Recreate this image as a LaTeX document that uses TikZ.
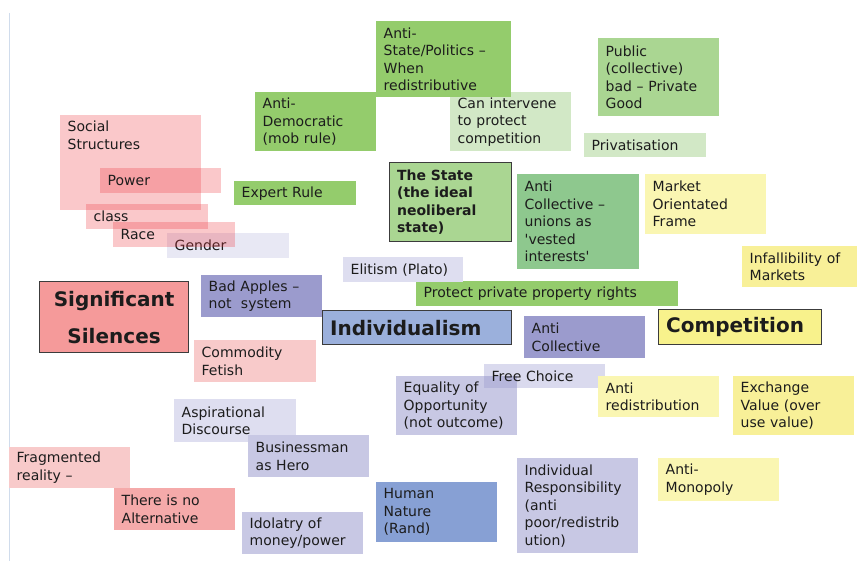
\documentclass[tikz,border=0pt]{standalone}
\usepackage{fontspec}
\setmainfont{DejaVu Sans}

\definecolor{inktext}{RGB}{28,28,28}
\definecolor{inkframe}{RGB}{60,60,60}
\definecolor{edgeline}{RGB}{208,220,236}
\definecolor{greenA}{RGB}{148,204,108}
\definecolor{greenB}{RGB}{170,214,146}
\definecolor{greenC}{RGB}{142,200,142}
\definecolor{greenPale}{RGB}{210,232,198}
\definecolor{yellowPale}{RGB}{250,246,178}
\definecolor{yellowMid}{RGB}{248,240,152}
\definecolor{yellowKey}{RGB}{248,242,140}
\definecolor{blueKey}{RGB}{155,176,220}
\definecolor{blueHuman}{RGB}{135,160,212}
\definecolor{purpleBox}{RGB}{155,155,205}
\definecolor{lavender}{RGB}{200,200,228}
\definecolor{lavLight}{RGB}{222,222,240}
\definecolor{lavGlass}{RGB}{150,150,205}
\definecolor{salmonKey}{RGB}{245,154,154}
\definecolor{pinkStrong}{RGB}{245,170,170}
\definecolor{pinkLight}{RGB}{248,202,202}
\definecolor{pinkGlass}{RGB}{236,56,64}

\begin{document}
\begin{tikzpicture}[x=1pt, y=-1pt,
        card/.style={anchor=north west, inner xsep=7.5pt, inner ysep=2pt, align=left,
            text=inktext, font=\fontsize{14}{17.5}\selectfont},
        glass/.style={card, fill opacity=0.28, text opacity=1},
        keybox/.style={draw=inkframe, line width=1.2pt},
        headline/.style={font=\bfseries\fontsize{20}{37}\selectfont}]

        \useasboundingbox (0,0) rectangle (857,561);

        % left margin rule
        \coordinate (ruletop) at (9.5,13);
        \coordinate (rulebottom) at (9.5,561);
        \draw[edgeline, line width=1.5pt] (ruletop) -- (rulebottom);

        % green: the state
        \node[card, fill=greenPale, minimum width=121pt, minimum height=59pt, text width=106pt] (canprotect) at (450,92) {Can intervene\\to protect\\competition};
        \node[card, fill=greenA, minimum width=135pt, minimum height=76pt, text width=120pt] (antistate) at (376,21) {Anti-\\State/Politics –\\When\\redistributive};
        \node[card, fill=greenA, minimum width=121pt, minimum height=59pt, text width=106pt] (antidemo) at (255,92) {Anti-\\Democratic\\(mob rule)};
        \node[card, fill=greenB, minimum width=121pt, minimum height=78pt, text width=106pt] (public) at (598,38) {Public\\(collective)\\bad – Private\\Good};
        \node[card, fill=greenPale, minimum width=122pt, minimum height=24pt, text width=107pt] (privatisation) at (584,133) {Privatisation};
        \node[card, fill=greenA, minimum width=122pt, minimum height=24pt, text width=107pt] (expert) at (234,181) {Expert Rule};
        \node[card, keybox, fill=greenB, minimum width=122pt, minimum height=79pt, text width=107pt, font=\bfseries\fontsize{14}{17.5}\selectfont] (state) at (389,162) {The State\\(the ideal\\neoliberal\\state)};
        \node[card, fill=greenC, minimum width=122pt, minimum height=95pt, text width=107pt] (unions) at (517,174) {Anti\\Collective –\\unions as\\\textquotesingle vested\\interests\textquotesingle};
        \node[card, fill=greenA, minimum width=262pt, minimum height=25pt, text width=247pt] (property) at (416,281) {Protect private property rights};

        % pink: significant silences
        \node[card, fill=lavLight!70!white, minimum width=122pt, minimum height=25pt, text width=107pt] (gender) at (167,233) {Gender};
        \node[glass, fill=pinkGlass, minimum width=141pt, minimum height=95pt] (social) at (60,115) {};
        \node[card, inner ysep=6pt] (socialtxt) at (social.north west) {Social\\Structures};
        \node[glass, fill=pinkGlass, minimum width=121pt, minimum height=25pt, text width=106pt] (power) at (100,168) {Power};
        \node[glass, fill=pinkGlass, minimum width=122pt, minimum height=25pt, text width=107pt] (class) at (86,204) {class};
        \node[glass, fill=pinkGlass, minimum width=122pt, minimum height=25pt, text width=107pt] (race) at (113,222) {Race};
        \node[card, keybox, fill=salmonKey, minimum width=149pt, minimum height=71pt, text width=134pt, align=center, headline] (silences) at (39,281) {Significant\\Silences};
        \node[card, fill=pinkLight, minimum width=122pt, minimum height=42pt, text width=107pt] (fetish) at (194,340) {Commodity\\Fetish};
        \node[card, fill=pinkLight, minimum width=121pt, minimum height=41pt, text width=106pt] (fragmented) at (9,447) {Fragmented\\reality –};
        \node[card, fill=pinkStrong, minimum width=121pt, minimum height=42pt, text width=106pt] (noalt) at (114,488) {There is no\\Alternative};

        % blue/purple: individualism
        \node[card, fill=lavLight, minimum width=120pt, minimum height=25pt, text width=105pt] (elitism) at (343,257) {Elitism (Plato)};
        \node[card, fill=purpleBox, minimum width=121pt, minimum height=42pt, text width=106pt] (badapples) at (201,275) {Bad Apples –\\not\ \ system};
        \node[card, keybox, fill=blueKey, minimum width=189pt, minimum height=34pt, text width=174pt, headline] (individualism) at (322,310) {Individualism};
        \node[card, fill=purpleBox, minimum width=121pt, minimum height=42pt, text width=106pt] (anticoll) at (524,316) {Anti\\Collective};
        \node[card, fill=lavender, minimum width=121pt, minimum height=59pt, text width=106pt] (equality) at (396,376) {Equality of\\Opportunity\\(not outcome)};
        \node[glass, fill=lavGlass, fill opacity=0.35, minimum width=121pt, minimum height=24pt, text width=106pt] (freechoice) at (484,364) {Free Choice};
        \node[card, fill=lavLight, minimum width=122pt, minimum height=43pt, text width=107pt] (aspirational) at (174,399) {Aspirational\\Discourse};
        \node[card, fill=lavender, minimum width=121pt, minimum height=42pt, text width=106pt] (businessman) at (248,435) {Businessman\\as Hero};
        \node[card, fill=lavender, minimum width=121pt, minimum height=42pt, text width=106pt] (idolatry) at (242,512) {Idolatry of\\money/power};
        \node[card, fill=blueHuman, minimum width=121pt, minimum height=60pt, text width=106pt] (human) at (376,482) {Human\\Nature\\(Rand)};
        \node[card, fill=lavender, minimum width=121pt, minimum height=95pt, text width=106pt] (responsibility) at (517,458) {Individual\\Responsibility\\(anti\\poor/redistrib\\ution)};

        % yellow: competition
        \node[card, fill=yellowPale, minimum width=121pt, minimum height=60pt, text width=106pt] (market) at (645,174) {Market\\Orientated\\Frame};
        \node[card, fill=yellowMid, minimum width=115pt, minimum height=41pt, text width=100pt] (infallibility) at (742,246) {Infallibility of\\Markets};
        \node[card, keybox, fill=yellowKey, minimum width=163pt, minimum height=35pt, text width=148pt, headline] (competition) at (658,309) {Competition};
        \node[card, fill=yellowPale, minimum width=121pt, minimum height=41pt, text width=106pt] (antiredis) at (598,376) {Anti\\redistribution};
        \node[card, fill=yellowMid, minimum width=121pt, minimum height=59pt, text width=106pt] (exchange) at (733,376) {Exchange\\Value (over\\use value)};
        \node[card, fill=yellowPale, minimum width=121pt, minimum height=43pt, text width=106pt] (monopoly) at (658,458) {Anti-\\Monopoly};
    \end{tikzpicture}
\end{document}
